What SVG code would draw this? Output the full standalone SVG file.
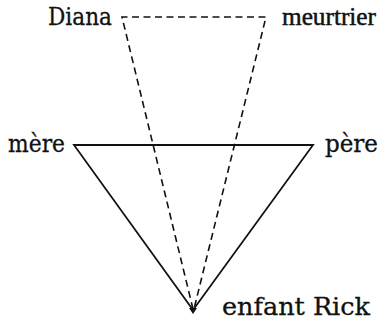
<svg xmlns="http://www.w3.org/2000/svg" width="385" height="323" viewBox="0 0 385 323">
<style>
.lbl{font-family:"DejaVu Serif","Liberation Serif",serif;font-size:24px;fill:#111;stroke:#111;stroke-width:0.3}
.lbl2{font-family:"Liberation Serif","DejaVu Serif",serif;font-size:25px;fill:#111;stroke:#111;stroke-width:0.5}
.solid{fill:none;stroke:#111;stroke-width:1.8;stroke-linejoin:miter}
.dash{fill:none;stroke:#111;stroke-width:1.6;stroke-dasharray:7 4.5}
</style>
<rect width="385" height="323" fill="#fff"/>
<g id="connectors">
<path class="solid" d="M74,145 L313,145 L193,310 Z"/>
<path class="dash" d="M193,309 L122,17 L266,17 L194,309"/>
<path d="M189,308 L197,308 L193,314 Z" fill="#111"/>
</g>
<g id="diana"><text class="lbl" x="48" y="25" textLength="64" lengthAdjust="spacingAndGlyphs">Diana</text></g>
<g id="meurtrier"><text class="lbl2" x="282" y="25" textLength="94" lengthAdjust="spacingAndGlyphs">meurtrier</text></g>
<g id="mere"><text class="lbl" x="8" y="152" textLength="57" lengthAdjust="spacingAndGlyphs">mère</text></g>
<g id="pere"><text class="lbl" x="325" y="152" textLength="53" lengthAdjust="spacingAndGlyphs">père</text></g>
<g id="enfant"><text class="lbl" x="222" y="315" textLength="148" lengthAdjust="spacingAndGlyphs">enfant Rick</text></g>
</svg>
